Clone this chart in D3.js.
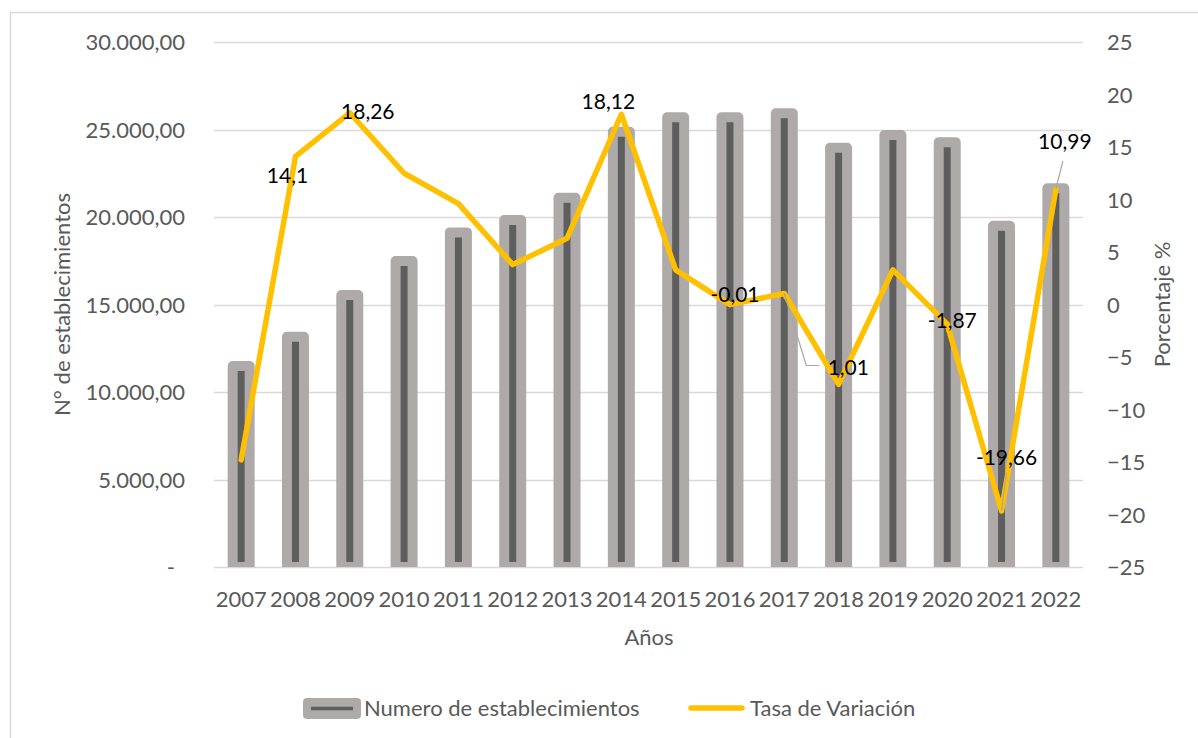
<!DOCTYPE html>
<html>
<head>
<meta charset="utf-8">
<script src="https://cdn.jsdelivr.net/npm/d3@7"></script>
<style>
  body { margin: 0; background: #fff; }
  text { font-family: Lato, "Open Sans", sans-serif; }
</style>
</head>
<body>
<svg id="canvas"></svg>
<script>
let years = ['2007','2008','2009','2010','2011','2012','2013','2014','2015','2016','2017','2018','2019','2020','2021','2022'];
let establecimientos = [11480, 13160, 15540, 17490, 19120, 19830, 21100, 24870, 25700, 25700, 25930, 23960, 24690, 24270, 19500, 21640];
let tasa = [-14.8, 14.1, 18.26, 12.5, 9.6, 3.8, 6.3, 18.12, 3.3, -0.01, 1.05, -7.6, 3.3, -1.87, -19.66, 10.99];
let leftTicks = [0, 5000, 10000, 15000, 20000, 25000, 30000];
let rightTicks = [-25, -20, -15, -10, -5, 0, 5, 10, 15, 20, 25];
// labels shown on the line: year, text
let lineLabels = [
  ['2008', '14,1'], ['2009', '18,26'], ['2014', '18,12'], ['2016', '-0,01'],
  ['2017', '1,01'], ['2020', '-1,87'], ['2021', '-19,66'], ['2022', '10,99']
];
let seriesNames = ['Numero de establecimientos', 'Tasa de Variación'];

let width = 1198;
let height = 738;
let plotLeft = 214, plotRight = 1083, plotTop = 42, plotBottom = 567;

let svg = d3.select('#canvas').attr('width', width).attr('height', height);

let locale = d3.formatLocale({decimal: ',', thousands: '.', grouping: [3], currency: ['', '']});
let fmt = locale.format(',.2f');

let xScale = d3.scaleBand().domain(years).range([plotLeft, plotRight]);
let yLeft = d3.scaleLinear().domain([0, 30000]).range([plotBottom, plotTop]);
let yRight = d3.scaleLinear().domain([-25, 25]).range([plotBottom, plotTop]);
let cx = (y) => xScale(y) + xScale.bandwidth() / 2;

// outer chart border
svg.append('rect')
  .attr('x', 10.5).attr('y', 12.5).attr('width', 1200).attr('height', 740)
  .attr('fill', 'none').attr('stroke', '#d9d9d9').attr('stroke-width', 1.5);

// gridlines
svg.append('g').selectAll('line')
  .data(leftTicks)
  .enter().append('line')
  .attr('x1', plotLeft).attr('x2', plotRight)
  .attr('y1', (d) => Math.round(yLeft(d)) + 0.5)
  .attr('y2', (d) => Math.round(yLeft(d)) + 0.5)
  .attr('stroke', '#d9d9d9').attr('stroke-width', 1.5);

// left axis
let leftAxis = d3.axisLeft(yLeft).tickValues(leftTicks).tickSize(0).tickPadding(0)
  .tickFormat((d) => d === 0 ? '-' : fmt(d));
let gl = svg.append('g').attr('transform', 'translate(185,0)').call(leftAxis);
gl.select('.domain').remove();
gl.selectAll('text').attr('fill', '#595959').style('font-size', '22px').attr('dy', '0.35em');
gl.selectAll('text').filter((d) => d === 0).attr('x', -10);

// right axis
let rightAxis = d3.axisRight(yRight).tickValues(rightTicks).tickSize(0).tickPadding(0);
let gr = svg.append('g').attr('transform', 'translate(1107,0)').call(rightAxis);
gr.select('.domain').remove();
gr.selectAll('text').attr('fill', '#595959').style('font-size', '22px').attr('dy', '0.35em');

// bottom axis
let bottomAxis = d3.axisBottom(xScale).tickSize(0).tickPadding(0);
let gb = svg.append('g').attr('transform', 'translate(0,' + plotBottom + ')').call(bottomAxis);
gb.select('.domain').remove();
gb.selectAll('text').attr('fill', '#595959').style('font-size', '22px').attr('dy', null).attr('y', 40);

// bars
svg.append('clipPath').attr('id', 'barclip')
  .append('rect').attr('x', 0).attr('y', 0).attr('width', width).attr('height', plotBottom);
let barW = xScale.bandwidth() * 0.313;
svg.append('g').attr('clip-path', 'url(#barclip)')
  .selectAll('rect')
  .data(establecimientos)
  .enter().append('rect')
  .attr('x', (d, i) => cx(years[i]) - barW / 2)
  .attr('y', (d) => yLeft(d))
  .attr('width', barW)
  .attr('height', (d) => plotBottom - yLeft(d))
  .attr('fill', '#5e5e5e')
  .attr('stroke', '#aeaaaa')
  .attr('stroke-width', 10)
  .attr('stroke-linejoin', 'round');

// line
let line = d3.line().x((d, i) => cx(years[i])).y((d) => yRight(d));
svg.append('path')
  .attr('d', line(tasa))
  .attr('fill', 'none')
  .attr('stroke', '#ffc000')
  .attr('stroke-width', 5.5)
  .attr('stroke-linejoin', 'round')
  .attr('stroke-linecap', 'round');

// leader lines
let pt = (y) => [cx(y), yRight(tasa[years.indexOf(y)])];
let leaders = [
  [pt('2017'), [pt('2017')[0] + 22, pt('2017')[1] + 72], [pt('2017')[0] + 35, pt('2017')[1] + 72]],
  [pt('2021'), [pt('2021')[0] + 5, pt('2021')[1] - 38]],
  [pt('2022'), [pt('2022')[0] + 7, pt('2022')[1] - 28]]
];
svg.append('g').selectAll('path')
  .data(leaders)
  .enter().append('path')
  .attr('d', (d) => d3.line()(d))
  .attr('fill', 'none').attr('stroke', '#a6a6a6').attr('stroke-width', 1.2);

// data labels
let labelOffsets = {
  '2008': [-8, 19], '2009': [18, -1], '2014': [-13, -13], '2016': [5, -10],
  '2017': [64, 74], '2020': [5, -3], '2021': [5, -53], '2022': [9, -47]
};
svg.append('g').selectAll('text')
  .data(lineLabels)
  .enter().append('text')
  .attr('x', (d) => pt(d[0])[0] + labelOffsets[d[0]][0])
  .attr('y', (d) => pt(d[0])[1] + labelOffsets[d[0]][1])
  .attr('text-anchor', 'middle')
  .attr('dy', '0.35em')
  .attr('fill', '#000')
  .style('font-size', '21px')
  .text((d) => d[1]);

// axis titles
svg.append('text')
  .attr('transform', 'translate(70,' + (plotTop + plotBottom) / 2 + ') rotate(-90)')
  .attr('text-anchor', 'middle').attr('fill', '#595959').style('font-size', '22px')
  .text('N° de establecimientos');
svg.append('text')
  .attr('transform', 'translate(1170,' + (plotTop + plotBottom) / 2 + ') rotate(-90)')
  .attr('text-anchor', 'middle').attr('fill', '#595959').style('font-size', '22px')
  .text('Porcentaje %');
svg.append('text')
  .attr('x', 649).attr('y', 645)
  .attr('text-anchor', 'middle').attr('fill', '#595959').style('font-size', '22px')
  .text('Años');

// legend
let lg = svg.append('g');
lg.append('rect').attr('x', 303).attr('y', 698).attr('width', 58).attr('height', 21).attr('rx', 4)
  .attr('fill', '#aeaaaa');
lg.append('line').attr('x1', 311).attr('x2', 353).attr('y1', 708.5).attr('y2', 708.5)
  .attr('stroke', '#5e5e5e').attr('stroke-width', 3.5);
lg.append('text').attr('x', 364).attr('y', 708.5).attr('dy', '0.35em')
  .attr('fill', '#595959').style('font-size', '22px').text(seriesNames[0]);
lg.append('line').attr('x1', 691).attr('x2', 742).attr('y1', 708).attr('y2', 708)
  .attr('stroke', '#ffc000').attr('stroke-width', 5.5).attr('stroke-linecap', 'round');
lg.append('text').attr('x', 750).attr('y', 708.5).attr('dy', '0.35em')
  .attr('fill', '#595959').style('font-size', '22px').text(seriesNames[1]);
</script>
</body>
</html>
